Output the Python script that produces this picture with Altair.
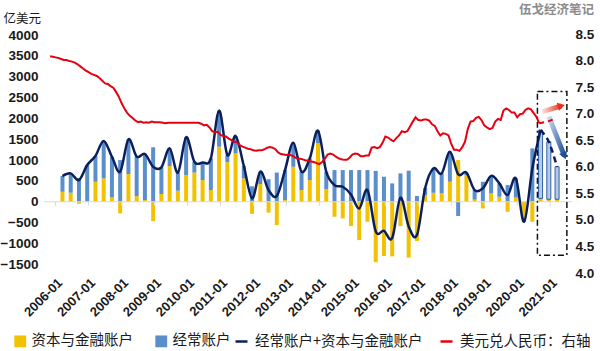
import altair as alt
import pandas as pd

# ---------------- data ----------------
quarters = [f"{y}Q{q}" for y in range(2006, 2022) for q in range(1, 5)][:61]

# 资本与金融账户 (亿美元)
ka = [240, 216, -50, 10, 480, 560, 105, -280,
      665, 136, 40, -465, 185, 855, 265, 635,
      700, 520, 280, 1320, 950, 1160, 560, -290,
      425, -260, -560, 40, 840, 280, 520, 1400,
      300, -360, -400, -585, -920, -480, -1450, -1300,
      -1310, -585, -1340, -940, 150, 215, 200, 480,
      1000, 640, 50, -160, 200, 120, -240, 100,
      -380, -480, 80, 60, 60]
# 经常账户 (亿美元)
ca = [378, 464, 570, 870, 620, 900, 975, 1000,
      833, 946, 1106, 1306, 640, 425, 433, 913,
      260, 420, 760, 866, 170, 417, 300, 370,
      296, 540, 700, 720, 577, 441, 521, 305,
      420, 760, 760, 760, 760, 760, 740, 600,
      440, 680, 745, 140, 180, 585, 480, 720,
      -341, 60, 230, 480, 420, 320, 400, 460,
      -100, 1280, 1640, 1380, 780]
estimate_from = "2020Q3"   # hatched / dashed part
line_solid_until = "2020Q3"

# 美元兑人民币 monthly, from 2005-11
fx_start = (2005, 11)
fx = [8.08, 8.07,
      8.06, 8.05, 8.03, 8.01, 8.01, 7.99, 7.98, 7.96, 7.93, 7.89, 7.85, 7.81,
      7.78, 7.75, 7.73, 7.71, 7.67, 7.62, 7.57, 7.56, 7.52, 7.49, 7.41, 7.32,
      7.20, 7.10, 7.02, 6.96, 6.92, 6.87, 6.84, 6.85, 6.83, 6.84, 6.83, 6.85,
      6.84, 6.84, 6.84, 6.83, 6.82, 6.83, 6.83, 6.83, 6.83, 6.83, 6.83, 6.83,
      6.83, 6.83, 6.83, 6.83, 6.83, 6.81, 6.78, 6.79, 6.74, 6.67, 6.65, 6.66,
      6.60, 6.58, 6.57, 6.53, 6.50, 6.47, 6.46, 6.41, 6.38, 6.36, 6.34, 6.33,
      6.31, 6.30, 6.31, 6.31, 6.33, 6.36, 6.37, 6.36, 6.33, 6.27, 6.24, 6.23,
      6.22, 6.23, 6.21, 6.18, 6.15, 6.15, 6.14, 6.12, 6.12, 6.10, 6.09, 6.07,
      6.05, 6.09, 6.15, 6.23, 6.25, 6.23, 6.19, 6.16, 6.14, 6.13, 6.13, 6.17,
      6.23, 6.25, 6.24, 6.20, 6.20, 6.21, 6.21, 6.36, 6.37, 6.35, 6.37, 6.45,
      6.57, 6.55, 6.51, 6.48, 6.54, 6.59, 6.67, 6.65, 6.67, 6.76, 6.85, 6.93,
      6.88, 6.87, 6.89, 6.89, 6.87, 6.80, 6.77, 6.67, 6.59, 6.63, 6.62, 6.59,
      6.43, 6.32, 6.32, 6.30, 6.37, 6.47, 6.71, 6.85, 6.86, 6.92, 6.94, 6.88,
      6.78, 6.74, 6.71, 6.73, 6.85, 6.90, 6.88, 7.06, 7.10, 7.07, 7.02, 7.02,
      6.93, 6.99, 7.00, 7.07, 7.10, 7.08, 7.01, 6.94, 6.82]
fx_forecast = [6.82, 6.83, 6.84, 6.85, 6.87, 6.89]   # 2020-09 .. 2021-02 (dashed)

year_ticks = list(range(2006, 2022))
left_ticks = list(range(-1500, 4001, 500))
right_ticks = [4.0, 4.5, 5.0, 5.5, 6.0, 6.5, 7.0, 7.5, 8.0, 8.5]

# annotation box & arrows (data units: year, 亿美元)
box = {"x0": 2020.613, "x1": 2021.506, "y0": 2644, "y1": -1281}
red_arrow = [(2020.76, 2164), (2021.34, 2300)]
blue_arrow = [(2020.96, 2043), (2021.43, 1100)]

S_KA = "资本与金融账户"
S_CA = "经常账户"
S_SUM = "经常账户+资本与金融账户"
S_FX = "美元兑人民币：右轴"
UNIT = "亿美元"
SOURCE = "伍戈经济笔记"

CJK = "Noto Sans CJK SC"
NUM = "Liberation Sans"
INK = "#1a1a1a"

# ---------------- frames ----------------
def qx(label):
    y, q = int(label[:4]), int(label[-1])
    return y + (3 * q - 1) / 12 + 0.042

est_i = quarters.index(estimate_from)
rows = []
for i, qlab in enumerate(quarters):
    rows.append({"x": qx(qlab), "v": ka[i], "series": S_KA, "ord": 0, "est": False})
    rows.append({"x": qx(qlab), "v": ca[i], "series": S_CA, "ord": 1, "est": i >= est_i})
bar_df = pd.DataFrame(rows)

sum_df = pd.DataFrame({"x": [qx(q) for q in quarters],
                       "v": [a + b for a, b in zip(ka, ca)],
                       "name": S_SUM, "i": range(len(quarters))})
solid_i = quarters.index(line_solid_until)
sum_solid = sum_df[sum_df.i <= solid_i]
sum_dash = sum_df[sum_df.i >= solid_i]

fy, fm = fx_start
fx_x = []
for k in range(len(fx)):
    m = fm - 1 + k
    fx_x.append(fy + m // 12 + (m % 12) / 12)
fx_df = pd.DataFrame({"x": fx_x, "r": fx, "name": S_FX})
last = len(fx) - 1
fx_fc_df = pd.DataFrame({"x": [fx_x[last] + k / 12 for k in range(len(fx_forecast))],
                         "r": fx_forecast})

tick_df = pd.DataFrame({"x": year_ticks, "y0": 0, "y1": -100})
zero_df = pd.DataFrame({"y0": [0]})
box_df = pd.DataFrame([box])
ra_df = pd.DataFrame(red_arrow, columns=["x", "y"])
ba_df = pd.DataFrame(blue_arrow, columns=["x", "y"])
src_df = pd.DataFrame({"t": [SOURCE]})

# ---------------- scales / axes ----------------
xs = alt.Scale(domain=[2005.80, 2021.51], nice=False, zero=False)
ys = alt.Scale(domain=[-1709, 4024], nice=False, zero=False)
rs = alt.Scale(domain=[4.0, 8.5], nice=False, zero=False)

xaxis = alt.Axis(values=year_ticks, labelExpr="datum.value + '-01'", labelAngle=-45,
                 labelFont=NUM, labelFontSize=13, labelFontWeight="bold", labelColor=INK,
                 domain=False, ticks=False, tickSize=0, grid=False, labelPadding=3,
                 title=None, labelOverlap=False, labelFlush=False, labelBound=False)
yaxis = alt.Axis(values=left_ticks, format="d", labelFont=NUM, labelFontSize=13.5,
                 labelFontWeight="bold", labelColor=INK, domain=False, ticks=False, tickSize=0,
                 grid=False, labelPadding=6, title=UNIT, titleAngle=0, titleX=-41, titleY=-16,
                 titleAlign="left", titleBaseline="middle", titleFont=CJK, titleFontSize=12.5,
                 titleFontWeight="normal", titleColor=INK, labelOverlap=False, labelFlush=False,
                 labelBound=False)
raxis = alt.Axis(values=right_ticks, format=".1f", orient="right", labelFont=NUM,
                 labelFontSize=13.5, labelFontWeight="bold", labelColor=INK,
                 domain=False, ticks=False, tickSize=0, grid=False, labelPadding=3,
                 title=None, labelOverlap=False, labelFlush=False, labelBound=False)


def X(field):
    return alt.X(field, scale=xs, axis=xaxis)


def Y(field, **kw):
    return alt.Y(field, scale=ys, axis=yaxis, **kw)


def R(field):
    return alt.Y(field, scale=rs, axis=raxis)


fill_scale = alt.Scale(domain=[S_KA, S_CA], range=["#F2C200", "#5B8FCB"])
stroke_scale = alt.Scale(domain=[S_SUM, S_FX], range=["#0B1F5C", "#E60012"])

# ---------------- layers ----------------
bars = alt.Chart(bar_df).mark_bar(size=4).encode(
    x=X("x:Q"),
    y=Y("v:Q", stack="zero"),
    fill=alt.Fill("series:N", scale=fill_scale,
                  legend=alt.Legend(orient="none", legendX=-31, legendY=300, direction="horizontal",
                                    title=None, symbolType="square", symbolSize=140,
                                    symbolStrokeWidth=0, labelFont=CJK, labelFontSize=14.5,
                                    labelColor=INK, labelOffset=4, columnPadding=21,
                                    labelLimit=300)),
    order=alt.Order("ord:Q"),
    fillOpacity=alt.condition("datum.est", alt.value(0.45), alt.value(1)),
    stroke=alt.condition("datum.est", alt.value("#2F5FA8"), alt.value("transparent")),
    strokeWidth=alt.condition("datum.est", alt.value(1), alt.value(0)),
)

zero = alt.Chart(zero_df).mark_rule(color="#D9D9D9", strokeWidth=1).encode(y=Y("y0:Q"))
ticks = alt.Chart(tick_df).mark_rule(color="#D9D9D9", strokeWidth=1).encode(
    x=X("x:Q"), y=Y("y0:Q"), y2="y1:Q")

navy = alt.Chart(sum_solid).mark_line(interpolate="cardinal", strokeWidth=2.5).encode(
    x=X("x:Q"),
    y=Y("v:Q"),
    stroke=alt.Stroke("name:N", scale=stroke_scale,
                      legend=alt.Legend(orient="none", legendX=190, legendY=300, direction="horizontal",
                                        title=None, symbolType="stroke", symbolSize=144,
                                        symbolStrokeWidth=2.5, labelFont=CJK, labelFontSize=14.5,
                                        labelColor=INK, labelOffset=6, columnPadding=12,
                                        labelLimit=300)),
)
navy_dash = alt.Chart(sum_dash).mark_line(interpolate="cardinal", strokeWidth=2.5,
                                          strokeDash=[6, 4], color="#0B1F5C").encode(
    x=X("x:Q"), y=Y("v:Q"))

box_mark = alt.Chart(box_df).mark_rect(fill="transparent", stroke="#111111", strokeWidth=1.5,
                                       strokeDash=[6, 3, 2, 3]).encode(
    x=X("x0:Q"), x2="x1:Q", y=Y("y0:Q"), y2="y1:Q")

red_grad = alt.Gradient(gradient="linear", x1=0, y1=0, x2=1, y2=0,
                        stops=[alt.GradientStop(color="#FBE3D6", offset=0),
                               alt.GradientStop(color="#E8301C", offset=1)])
blue_grad = alt.Gradient(gradient="linear", x1=0, y1=0, x2=1, y2=1,
                         stops=[alt.GradientStop(color="#C9DBF0", offset=0),
                                alt.GradientStop(color="#1F4E99", offset=1)])
ra_line = alt.Chart(ra_df).mark_line(strokeWidth=5, color=red_grad, strokeCap="butt").encode(
    x=X("x:Q"), y=Y("y:Q"))
ra_head = alt.Chart(ra_df.tail(1)).mark_point(shape="triangle-right", filled=True, size=70,
                                              angle=345, color="#E8301C", opacity=1).encode(
    x=X("x:Q"), y=Y("y:Q"))
ba_line = alt.Chart(ba_df).mark_line(strokeWidth=5, color=blue_grad, strokeCap="butt").encode(
    x=X("x:Q"), y=Y("y:Q"))
ba_head = alt.Chart(ba_df.tail(1)).mark_point(shape="triangle-right", filled=True, size=70,
                                              angle=68, color="#1F4E99", opacity=1).encode(
    x=X("x:Q"), y=Y("y:Q"))

source = alt.Chart(src_df).mark_text(font=CJK, fontSize=12.5, fontWeight="bold", color="#8C8C8C",
                                     align="right", baseline="middle").encode(
    text="t:N", x=alt.value(550), y=alt.value(-24))

left = alt.layer(bars, zero, ticks, navy, navy_dash, box_mark, ba_line, ba_head, ra_line, ra_head, source)

red = alt.Chart(fx_df).mark_line(strokeWidth=2).encode(
    x=X("x:Q"),
    y=R("r:Q"),
    stroke=alt.Stroke("name:N", scale=stroke_scale))
red_dash = alt.Chart(fx_fc_df).mark_line(strokeWidth=2, strokeDash=[5, 4], color="#E60012").encode(
    x=X("x:Q"), y=R("r:Q"))
right = alt.layer(red, red_dash)

chart = alt.layer(left, right).resolve_scale(y="independent").properties(
    width=528, height=239,
    autosize=alt.AutoSizeParams(type="none"),
    padding={"left": 44, "top": 34, "right": 28, "bottom": 78},
    background="white",
).configure_view(strokeWidth=0)

chart.save("out.html", embed_options={"renderer": "svg", "actions": False})
